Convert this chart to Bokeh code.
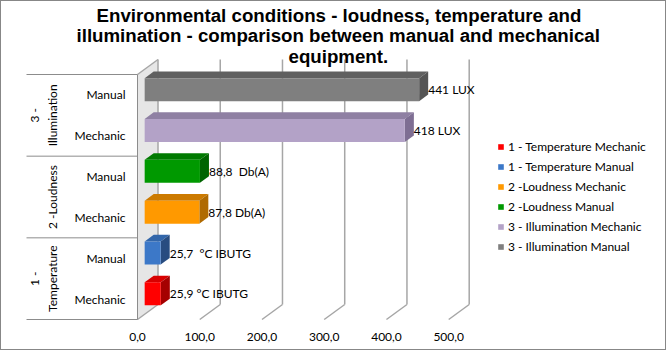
import numpy as np
from bokeh.plotting import figure
from bokeh.models import Range1d, FixedTicker, LinearAxis, Legend, LegendItem, Title, ColumnDataSource
from bokeh.core.properties import value
from bokeh.embed import file_html
from bokeh.resources import INLINE

# ---------------- data ----------------
groups = ["1 - Temperature", "1 - Temperature", "2 -Loudness", "2 -Loudness",
          "3 - Illumination", "3 - Illumination"]
group_axis_labels = ["1 -\nTemperature", "2 -Loudness", "3 -\nIllumination"]
subcats = ["Mechanic", "Manual", "Mechanic", "Manual", "Mechanic", "Manual"]
values_ = [25.9, 25.7, 87.8, 88.8, 418, 441]
value_labels = ["25,9 °C IBUTG", "25,7\u00a0 °C IBUTG", "87,8 Db(A)", "88,8\u00a0 Db(A)",
                "418 LUX", "441 LUX"]
series_names = ["1 - Temperature Mechanic", "1 - Temperature Manual",
                "2 -Loudness Mechanic", "2 -Loudness Manual",
                "3 - Illumination Mechanic", "3 - Illumination Manual"]
x_ticks = [0, 100, 200, 300, 400, 500]
x_tick_labels = ["0,0", "100,0", "200,0", "300,0", "400,0", "500,0"]
title_lines = ["Environmental conditions - loudness, temperature and",
               "illumination - comparison between manual and mechanical",
               "equipment."]

front_colors = ["#FF0000", "#3C78C8", "#FF9900", "#009900", "#B3A2C7", "#7F7F7F"]
top_colors = ["#D80000", "#3266AA", "#CC7A00", "#007A00", "#8F80A3", "#606060"]
side_colors = ["#A50000", "#284C80", "#B06A00", "#006400", "#7E6E93", "#555555"]

# ---------------- layout / style constants (pixels) ----------------
W, H = 666, 350
FRAME_L, FRAME_R, FRAME_T, FRAME_B = 2, 664, 58, 322
X0_PX = 137            # value 0 on the front plane
Y0_PX, Y6_PX = 319, 74 # category block bottom / top on the front plane
PX_PER_X = 0.6224
N = len(values_)
PX_PER_Y = (Y0_PX - Y6_PX) / N
DX = 20.5 / PX_PER_X   # floor depth, data units
DY = 15.0 / PX_PER_Y
D1, D2 = 0.35, 0.79    # bar depth band (fraction of floor depth)
HALF = 0.2825          # half bar height (category units)
FONT = "Lato"
GRID = "#A6A6A6"
AXC = "#8C8C8C"
SEP_LEFT_PX = 26
SUB_RIGHT_PX = 125
GROUP_RIGHT_PX = 59

def xd(px):
    return (px - X0_PX) / PX_PER_X

def yd(py):
    return (Y0_PX - py) / PX_PER_Y

p = figure(width=W, height=H,
           x_range=Range1d(xd(FRAME_L), xd(FRAME_R)), y_range=Range1d(yd(FRAME_B), yd(FRAME_T)),
           output_backend="svg", toolbar_location=None,
           x_axis_location=None, y_axis_location=None,
           min_border_left=FRAME_L, min_border_right=W - FRAME_R,
           min_border_top=FRAME_T, min_border_bottom=H - FRAME_B)
p.xgrid.grid_line_color = None
p.ygrid.grid_line_color = None
p.outline_line_color = None
p.background_fill_color = "white"
p.border_fill_color = None
p.styles = {"outline": "1px solid #878787", "outline-offset": "-1px", "background-color": "white"}

centers = np.arange(N) + 0.5
vals = np.array(values_, dtype=float)

# ---------------- 3D walls ----------------
p.patch([0, DX, DX, 0], [0, DY, N + DY, N], fill_color="#E6E6E6", line_color=None)
tx = np.array(x_ticks, dtype=float)
p.segment(x0=tx + DX, y0=DY, x1=tx + DX, y1=N + DY, line_color=GRID, line_width=1.5)
p.segment(x0=tx, y0=0, x1=tx + DX, y1=DY, line_color=GRID, line_width=1.5)
p.segment(x0=[0], y0=[N], x1=[DX], y1=[N + DY], line_color=GRID, line_width=1.5)

# ---------------- category axis (two levels) ----------------
bounds = np.arange(0, N + 1, 2, dtype=float)
p.segment(x0=xd(SEP_LEFT_PX), y0=bounds, x1=0, y1=bounds, line_color=AXC, line_width=1)
p.segment(x0=[0], y0=[0], x1=[0], y1=[N], line_color=AXC, line_width=1)
p.text(x=xd(SUB_RIGHT_PX), y=centers, text=subcats, text_align="right", text_baseline="middle",
       text_font=value(FONT), text_font_size="12px", text_color="#000000")
uniq = list(dict.fromkeys(groups))
gcent = [float(np.mean([j for j, g in enumerate(groups) if g == u]) + 0.5) for u in uniq]
p.text(x=xd(GROUP_RIGHT_PX), y=gcent, text=group_axis_labels, angle=np.pi / 2,
       text_align="center", text_baseline="bottom", text_line_height=1.15,
       text_font=value(FONT), text_font_size="12px", text_color="#000000")

# ---------------- 3D bars ----------------
renderers = []
for i in range(N):
    v, c = vals[i], centers[i]
    x0f, x1f = D1 * DX, v + D1 * DX
    x0b, x1b = D2 * DX, v + D2 * DX
    b1, t1 = c - HALF + D1 * DY, c + HALF + D1 * DY
    b2, t2 = c - HALF + D2 * DY, c + HALF + D2 * DY
    p.patch([x0f, x1f, x1b, x0b], [t1, t1, t2, t2], fill_color=top_colors[i], line_color=None)
    p.patch([x1f, x1b, x1b, x1f], [b1, b2, t2, t1], fill_color=side_colors[i], line_color=None)
    r = p.quad(left=[x0f], right=[x1f], bottom=[b1], top=[t1],
               fill_color=front_colors[i], line_color=None)
    renderers.append(r)

lab_src = ColumnDataSource(dict(x=vals + D2 * DX, y=centers + D1 * DY, text=value_labels))
p.text(x="x", y="y", text="text", source=lab_src, x_offset=0,
       text_align="left", text_baseline="middle",
       text_font=value(FONT), text_font_size="12px", text_color="#000000")

# ---------------- value axis ----------------
xaxis = LinearAxis(ticker=FixedTicker(ticks=x_ticks),
                   major_label_overrides={t: l for t, l in zip(x_ticks, x_tick_labels)},
                   major_tick_out=0, major_tick_in=0, minor_tick_out=0, minor_tick_in=0,
                   axis_line_color=None, major_label_standoff=10,
                   major_label_text_font=FONT, major_label_text_font_size="12px",
                   major_label_text_color="#000000")
p.add_layout(xaxis, "below")

# ---------------- legend ----------------
legend = Legend(items=[LegendItem(label=series_names[i], renderers=[renderers[i]]) for i in range(N)],
                location=(497 - FRAME_L, 68), orientation="vertical",
                glyph_width=7, glyph_height=7, label_standoff=4,
                spacing=5, label_height=14, padding=0, margin=0,
                border_line_color=None, background_fill_alpha=0,
                label_text_font=FONT, label_text_font_size="12px",
                label_text_color="#000000")
p.add_layout(legend, "center")

# ---------------- title (three lines, centred at x=338.5) ----------------
TITLE_FONT = "Liberation Sans"
TITLE_SIZE = "18.7px"
title_widths = [485, 524, 100]      # estimated rendered widths of the three lines
title_standoffs = [-20, 14, -17]
TITLE_CX = 338.5
offs = [int(round(TITLE_CX - w / 2 - FRAME_L)) for w in title_widths]
p.title.text = ""
for k in (2, 1, 0):   # nearest the plot first
    p.add_layout(Title(text=title_lines[k], align="left", offset=offs[k],
                       standoff=title_standoffs[k], text_font=TITLE_FONT,
                       text_font_style="bold", text_font_size=TITLE_SIZE,
                       text_color="#000000"), "above")

open("out.html", "w").write(file_html(p, INLINE))
